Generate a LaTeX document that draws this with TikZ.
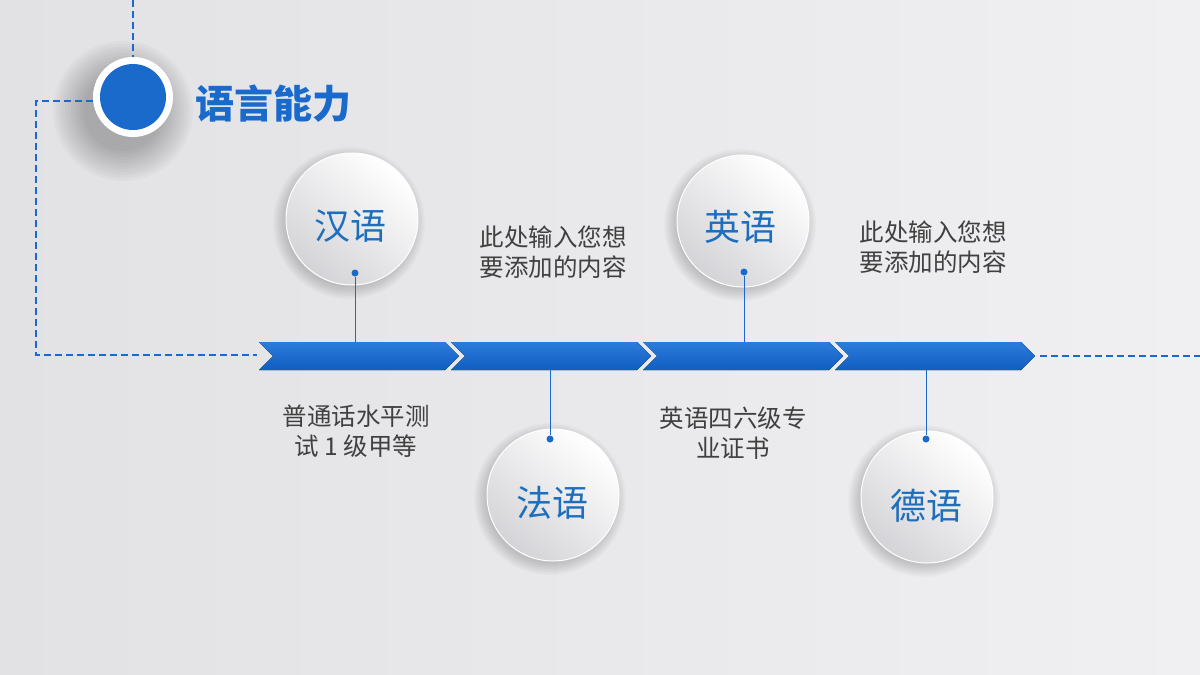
\documentclass[tikz,border=0pt]{standalone}
\usepackage{fontspec}
\setmainfont{Noto Sans CJK SC}
\definecolor{bgA}{RGB}{226,226,229}
\definecolor{bgB}{RGB}{240,240,242}
\definecolor{mblue}{RGB}{26,106,204}
\definecolor{tblue}{RGB}{30,110,190}
\definecolor{txt}{RGB}{64,64,64}
\definecolor{bandtop}{RGB}{44,124,220}
\definecolor{bandbot}{RGB}{16,94,192}
\definecolor{bubgray}{RGB}{212,212,216}
\begin{document}
\begin{tikzpicture}[x=1pt,y=-1pt,
  dashline/.style={draw=mblue, line width=2.5pt, dash pattern=on 7pt off 4pt},
  bubble/.style={circle, minimum size=132pt, inner sep=0pt, shading=axis,
    top color=white, bottom color=bubgray, shading angle=-40, draw=white, line width=1pt},
  blabel/.style={font=\fontsize{36}{40}\selectfont, text=tblue, inner sep=0pt},
  desc/.style={align=center, text=txt, font=\fontsize{24.5}{30}\selectfont, inner sep=0pt},
  dot/.style={circle, fill=mblue, minimum size=7pt, inner sep=0pt},
  stem/.style={draw=mblue, line width=1pt},
  seg/.style={top color=bandtop, bottom color=bandbot},
  shlayer/.style={fill=black, fill opacity=#1},
  shlayer/.default=0.02
]
\useasboundingbox (0,0) rectangle (1200,675);
\shade[left color=bgA, right color=bgB] (0,0) rectangle (1200,675);

% header marker
\foreach \r in {40,43,...,70}{
  \fill[shlayer=0.025] (123,111) circle (\r);
}
\coordinate (topend) at (133,0);
\coordinate (lc1) at (36,101);
\coordinate (lc2) at (36,355);
\coordinate (bandstart) at (257,355);
\draw[dashline] (topend) -- (133,57);
\draw[dashline] (93,101) -- (lc1) -- (lc2) -- (bandstart);
\node[circle, fill=white, minimum size=80pt, inner sep=0pt] (ring) at (133,97) {};
\node[circle, fill=mblue, minimum size=66pt, inner sep=0pt] (core) at (133,97) {};
\node[anchor=west, font=\fontsize{39}{44}\selectfont\bfseries, text=mblue, inner sep=0pt] (title) at (195,104) {语言能力};

% band
\foreach \xl in {259,451,643,835}{
  \fill[seg] (\xl,342) -- (\xl+186,342) -- (\xl+200,356) -- (\xl+186,370) -- (\xl,370) -- (\xl+14,356) -- cycle;
}
\coordinate (bandend) at (1040,356);
\coordinate (rightend) at (1200,356);
\draw[dashline] (bandend) -- (rightend);

% bubble shadows
\foreach \cx/\cy in {352/219, 743/221, 553/495, 927/497}{
  \foreach \r in {64,65.5,...,76}{
    \fill[shlayer] (\cx-3,\cy+4) circle (\r);
  }
}

% bubbles
\node[bubble] (han) at (352,219) {};
\node[bubble] (eng) at (743,221) {};
\node[bubble] (fra) at (553,495) {};
\node[bubble] (deu) at (927,497) {};
\node[blabel] (hanl) at (350,226) {汉语};
\node[blabel] (engl) at (740,227) {英语};
\node[blabel] (fral) at (552,503) {法语};
\node[blabel] (deul) at (926,506) {德语};

% stems
\node[dot] (d1) at (355,273) {};
\node[dot] (d2) at (744,272) {};
\node[dot] (d3) at (550,439) {};
\node[dot] (d4) at (926,439) {};
\coordinate (b1) at (355,342);
\coordinate (b2) at (744,342);
\coordinate (b3) at (550,370);
\coordinate (b4) at (926,370);
\draw[stem] (d1) -- (b1);
\draw[stem] (d2) -- (b2);
\draw[stem] (d3) -- (b3);
\draw[stem] (d4) -- (b4);

% descriptions
\node[desc] (t1) at (553,252) {此处输入您想\\要添加的内容};
\node[desc] (t2) at (933,247) {此处输入您想\\要添加的内容};
\node[desc] (t3) at (356,431) {普通话水平测\\试 1 级甲等};
\node[desc] (t4) at (733,433) {英语四六级专\\业证书};
\end{tikzpicture}
\end{document}
